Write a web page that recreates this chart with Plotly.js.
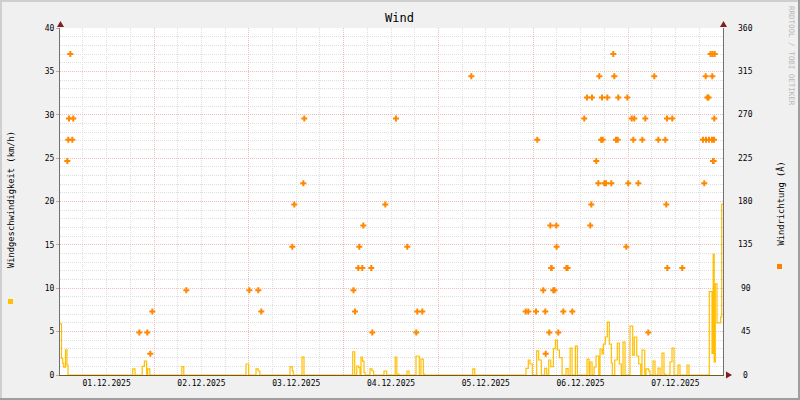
<!DOCTYPE html>
<html><head><meta charset="utf-8">
<script src="https://cdn.plot.ly/plotly-3.0.1.min.js"></script>
<style>html,body{margin:0;padding:0;background:#F0F0F0}</style>
</head><body>
<div id="chart" style="width:800px;height:400px"></div>
<script>
// ---- data (hours since 2025-12-01 00:00) ----
const baseDate = Date.UTC(2025, 11, 1, 0, 0, 0);
const speedHour = [0.2, 0.58, 0.89, 1.14, 1.59, 1.97, 2.23,
  18.61, 19.19, 21.01, 21.57, 22.13, 22.40, 22.94,
  31.04, 31.54,
  47.29, 47.97, 49.82, 50.38, 50.78,
  58.43, 59.01, 59.26, 61.47, 61.97,
  74.30, 74.81, 75.32, 75.82, 76.15, 76.40, 76.78, 77.16, 77.42,
  78.68, 79.19, 79.62, 82.23, 82.91,
  85.06, 85.47, 85.97, 88.05, 88.56,
  90.33, 91.16, 91.59, 92.18, 92.43,
  104.71, 105.21,
  118.17, 118.76, 119.19, 119.77,
  120.88, 121.39, 122.06,
  122.92, 123.43,
  123.94, 124.45, 125.11, 125.61, 126.12, 126.63, 127.31,
  128.32, 128.83, 129.34, 129.84, 130.68, 131.19,
  133.63, 134.14, 134.39, 134.90, 135.41, 135.91, 136.59,
  136.92, 137.43, 137.76, 138.26, 138.77, 139.27, 139.78, 140.03,
  140.64, 141.30, 141.80, 142.31, 142.74, 143.25,
  144.51, 145.19, 145.60, 146.21, 146.71, 147.22,
  147.54, 148.23, 148.56, 149.24, 149.57,
  150.33, 150.84, 151.59, 152.10,
  152.61, 153.11, 153.37,
  154.63, 155.14, 155.65,
  156.66, 157.16, 158.94, 159.44,
  164.58, 165.26, 165.57, 165.82, 166.10, 166.53, 167.47, 167.72, 168.05];
const speedKmh = [5.9, 1.9, 1.35, 0.9, 2.9, 1.15, 0,
  0.7, 0, 1.0, 1.6, 0, 0.7, 0,
  0.96, 0,
  1.27, 0, 0.7, 0.46, 0,
  0.96, 0.46, 0, 2.07, 0,
  2.68, 0, 1.04, 0.85, 0, 2.07, 1.6, 0.3, 0,
  0.7, 0.46, 0, 0.46, 0,
  2.07, 0.1, 0, 0.46, 0,
  2.19, 0, 1.84, 0.1, 0,
  0.7, 0,
  0.77, 1.73, 1.27, 0,
  2.77, 1.73, 0,
  0.77, 0,
  1.73, 0.96, 3.03, 4.03, 2.88, 2.0, 0,
  0.73, 0, 3.1, 0, 3.34, 0,
  1.84, 0, 1.5, 0, 0.92, 2.19, 0,
  3.0, 2.42, 3.57, 4.38, 6.1, 3.57, 1.4, 0,
  1.73, 3.69, 1.27, 0, 3.8, 0,
  5.64, 2.3, 4.38, 2.19, 1.27, 0,
  2.88, 0, 0.7, 0.46, 0,
  1.6, 0, 0.8, 0,
  2.53, 0.1, 0,
  1.5, 3.1, 0,
  1.15, 0, 1.15, 0,
  9.6, 2.5, 13.9, 1.5, 10.5, 6.0, 6.7, 19.7, 19.7];

const dirHour = [2.05, 2.30, 2.48, 2.81, 3.32, 3.57, 20.28, 22.30, 23.06, 23.57,
  32.18, 48.13, 50.40, 51.16, 59.01, 59.52, 61.80, 62.05,
  74.50, 74.89, 75.72, 75.97, 76.73, 76.99, 79.01, 79.26, 82.55, 85.26, 88.12,
  90.40, 90.66, 91.92, 104.33,
  118.10, 118.76, 120.71, 121.04, 122.55, 123.06, 123.16, 124.07, 124.33, 124.55, 124.68,
  125.10, 125.40, 125.85, 125.92, 126.35, 127.62, 128.40, 128.70, 129.90,
  132.93, 133.62, 134.45, 134.71, 134.88, 135.97, 136.48, 136.73, 137.20, 137.60, 137.42,
  138.00, 138.43, 138.76, 139.77, 140.28, 140.53, 140.96, 141.40, 141.54,
  143.57, 143.82, 144.07, 144.93, 145.34, 145.59, 146.61, 147.62, 148.38, 149.14,
  150.65, 151.67, 153.44, 153.69, 153.87, 153.95, 155.21, 157.74,
  162.98, 163.31, 163.67, 163.74, 164.10, 164.40, 164.50, 164.90, 165.26, 165.34,
  165.40, 165.51, 165.70, 165.77, 165.84, 165.95];
const dirDeg = [222, 244, 266, 333, 244, 266, 44, 44, 22, 66,
  88, 88, 88, 66, 133, 177, 199, 266,
  88, 66, 111, 133, 111, 155, 111, 44, 177, 266, 133,
  44, 66, 66, 310,
  66, 66, 66, 244, 88, 66, 22, 44, 155, 111, 111,
  88, 88, 155, 133, 44, 66, 111, 111, 66,
  266, 288, 155, 177, 288, 222, 199, 310, 244, 244, 288,
  199, 199, 288, 199, 333, 310, 244, 244, 288,
  133, 288, 199, 266, 244, 266, 199, 244, 266, 44,
  310, 244, 244, 177, 266, 111, 266, 111,
  244, 199, 310, 244, 288, 288, 244, 333, 244, 310,
  333, 222, 222, 244, 266, 333];

const speedTicks = [0, 5, 10, 15, 20, 25, 30, 35, 40];
const dirTicks = [0, 45, 90, 135, 180, 225, 270, 315, 360];

// ---- helpers ----
const H = 3600000;
const toT = h => baseDate + h * H;
const L = 60, R = 723, T = 28, B = 375;
const px = p => (p - L) / (R - L);
const py = p => (B - p) / (B - T);
const mono = 'DejaVu Sans Mono, monospace';

const traces = [
  {
    x: speedHour.map(toT), y: speedKmh, type: 'scatter', mode: 'lines',
    line: {shape: 'hv', color: '#FFBF00', width: 1.2},
    yaxis: 'y', cliponaxis: true, hoverinfo: 'skip'
  },
  {
    x: dirHour.map(toT), y: dirDeg, type: 'scatter', mode: 'markers',
    marker: {symbol: 'cross', size: 5, color: '#FF8800', line: {width: 0}},
    yaxis: 'y2', hoverinfo: 'skip'
  }
];

const gridRed = '#F0BDBD', gridGray = '#DEDEDE', dotted = '1px,1px';

const shapes = [
  {type: 'rect', xref: 'paper', yref: 'paper', x0: px(0), x1: px(800), y0: py(0), y1: py(2), fillcolor: '#CFCFCF', line: {width: 0}, layer: 'below'},
  {type: 'rect', xref: 'paper', yref: 'paper', x0: px(0), x1: px(2), y0: py(0), y1: py(400), fillcolor: '#CFCFCF', line: {width: 0}, layer: 'below'},
  {type: 'rect', xref: 'paper', yref: 'paper', x0: px(0), x1: px(800), y0: py(398), y1: py(400), fillcolor: '#9E9E9E', line: {width: 0}, layer: 'below'},
  {type: 'rect', xref: 'paper', yref: 'paper', x0: px(798), x1: px(800), y0: py(0), y1: py(400), fillcolor: '#9E9E9E', line: {width: 0}, layer: 'below'},
  {type: 'path', xref: 'paper', yref: 'paper', path: `M ${px(60.5)} ${py(21)} L ${px(57)} ${py(27)} L ${px(64)} ${py(27)} Z`, fillcolor: '#7F1F1F', line: {width: 0}},
  {type: 'path', xref: 'paper', yref: 'paper', path: `M ${px(723.5)} ${py(21)} L ${px(720)} ${py(27)} L ${px(727)} ${py(27)} Z`, fillcolor: '#7F1F1F', line: {width: 0}},
  {type: 'path', xref: 'paper', yref: 'paper', path: `M ${px(732)} ${py(375)} L ${px(726)} ${py(371.5)} L ${px(726)} ${py(378.5)} Z`, fillcolor: '#7F1F1F', line: {width: 0}},
  {type: 'rect', xref: 'paper', yref: 'paper', x0: px(8), x1: px(13), y0: py(299), y1: py(304), fillcolor: '#FFC000', line: {width: 0}},
  {type: 'rect', xref: 'paper', yref: 'paper', x0: px(777), x1: px(782), y0: py(264), y1: py(269), fillcolor: '#FF8000', line: {width: 0}}
];

const annotations = [
  {xref: 'paper', yref: 'paper', x: px(400), y: py(18), text: 'Wind', showarrow: false,
   xanchor: 'center', yanchor: 'middle', font: {family: mono, size: 12, color: '#000'}},
  {xref: 'paper', yref: 'paper', x: px(11), y: py(200), text: 'Windgeschwindigkeit (km/h)', showarrow: false,
   textangle: -90, xanchor: 'center', yanchor: 'middle', font: {family: mono, size: 8.75, color: '#000'}},
  {xref: 'paper', yref: 'paper', x: px(779.5), y: py(204), text: 'Windrichtung (Â)', showarrow: false,
   textangle: -90, xanchor: 'center', yanchor: 'middle', font: {family: mono, size: 8.75, color: '#000'}},
  {xref: 'paper', yref: 'paper', x: px(791), y: py(4), text: 'RRDTOOL / TOBI OETIKER', showarrow: false,
   textangle: 90, xanchor: 'center', yanchor: 'top', font: {family: mono, size: 7.5, color: '#B8B8B8'}}
].concat(dirTicks.map(v => ({
  xref: 'paper', yref: 'y2', x: px(745.5), y: v, text: String(v), showarrow: false,
  xanchor: 'center', yanchor: 'middle', font: {family: mono, size: 8, color: '#000'}
})));

const layout = {
  width: 800, height: 400,
  margin: {l: L, r: 800 - R, t: T, b: 400 - B, pad: 0},
  paper_bgcolor: '#F0F0F0', plot_bgcolor: '#FFFFFF',
  showlegend: false,
  font: {family: mono, size: 8, color: '#000'},
  xaxis: {
    type: 'date', range: [toT(0.2), toT(168.05)],
    tick0: baseDate, dtick: 86400000, tickformat: '%d.%m.%Y', ticklabelmode: 'period',
    showgrid: true, gridcolor: gridRed, griddash: dotted, gridwidth: 1,
    minor: {dtick: 6 * H, tick0: baseDate, showgrid: true, gridcolor: gridGray, griddash: dotted, gridwidth: 1},
    showline: true, linecolor: '#6E5A22', linewidth: 1, zeroline: false,
    ticks: '', tickfont: {family: mono, size: 8, color: '#000'}, fixedrange: true
  },
  yaxis: {
    range: [0, 40], tickvals: speedTicks, ticktext: speedTicks.map(String),
    showgrid: true, gridcolor: gridRed, griddash: dotted, gridwidth: 1,
    minor: {dtick: 1, showgrid: true, gridcolor: gridGray, griddash: dotted, gridwidth: 1},
    showline: true, linecolor: '#707070', linewidth: 1, zeroline: false,
    ticks: 'outside', ticklen: 3, tickcolor: '#E0A0A0',
    tickfont: {family: mono, size: 8, color: '#000'}, fixedrange: true
  },
  yaxis2: {
    range: [0, 360], tickvals: dirTicks, overlaying: 'y', side: 'right',
    showgrid: false, showticklabels: false, showline: true, linecolor: '#707070', linewidth: 1,
    zeroline: false, ticks: '', fixedrange: true
  },
  shapes: shapes,
  annotations: annotations
};

Plotly.newPlot('chart', traces, layout, {staticPlot: true, displayModeBar: false});
</script>
</body></html>
